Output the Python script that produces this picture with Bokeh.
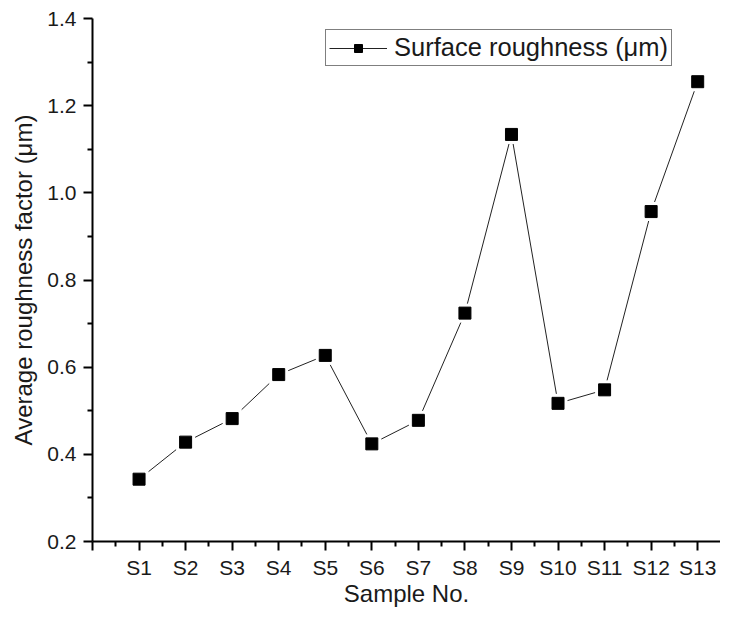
from bokeh.plotting import figure
from bokeh.models import Range1d, FixedTicker, Legend, LegendItem
from bokeh.embed import file_html
from bokeh.resources import INLINE

samples = ["S1", "S2", "S3", "S4", "S5", "S6", "S7", "S8", "S9", "S10", "S11", "S12", "S13"]
roughness = [0.343, 0.428, 0.482, 0.583, 0.627, 0.424, 0.478, 0.724, 1.134, 0.517, 0.548, 0.957, 1.255]
y_ticks = [0.2, 0.4, 0.6, 0.8, 1.0, 1.2, 1.4]
y_minor = [0.3, 0.5, 0.7, 0.9, 1.1, 1.3]
x_title = "Sample No."
y_title = "Average roughness factor (μm)"
series_name = "Surface roughness (μm)"

xs = list(range(1, len(samples) + 1))
FONT = "Liberation Sans"
TXT = "#1a1a1a"
X_END = 13.49

p = figure(width=720, height=609, output_backend="svg", toolbar_location=None,
           x_range=Range1d(0, X_END), y_range=Range1d(0.2, 1.4),
           min_border_left=92, min_border_right=0, min_border_top=18, min_border_bottom=60)
p.outline_line_color = None
p.xgrid.visible = False
p.ygrid.visible = False
p.background_fill_color = "white"
p.border_fill_color = "white"

ln = p.line(xs, roughness, line_color="#222222", line_width=1)
halo = p.scatter(xs, roughness, marker="square", size=19, fill_color="white", line_color=None)
sq = p.scatter(xs, roughness, marker="square", size=12, fill_color="black", line_color="black")

x_major = list(range(0, 14))
x_minor = [i + 0.5 for i in range(0, 14)]
p.xaxis.ticker = FixedTicker(ticks=x_major, minor_ticks=x_minor)
overrides = {0: ""}
for i, s in zip(xs, samples):
    overrides[i] = s
p.xaxis.major_label_overrides = overrides
p.yaxis.ticker = FixedTicker(ticks=y_ticks, minor_ticks=y_minor)
p.yaxis.major_label_overrides = {v: f"{v:.1f}" for v in y_ticks}

for ax in (p.xaxis[0], p.yaxis[0]):
    ax.axis_line_width = 2
    ax.axis_line_color = "black"
    ax.major_tick_line_width = 2
    ax.minor_tick_line_width = 2
    ax.major_tick_line_color = "black"
    ax.minor_tick_line_color = "black"
    ax.major_tick_out = 9
    ax.major_tick_in = 0
    ax.minor_tick_out = 5
    ax.minor_tick_in = 0
    ax.major_label_text_font = FONT
    ax.major_label_text_font_size = "21px"
    ax.major_label_text_color = TXT
    ax.axis_label_text_font = FONT
    ax.axis_label_text_font_size = "24px"
    ax.axis_label_text_font_style = "normal"
    ax.axis_label_text_color = TXT

p.xaxis.axis_label = x_title
p.xaxis.major_label_standoff = 5
p.xaxis.axis_label_standoff = -2
p.yaxis.axis_label = y_title
p.yaxis.major_label_standoff = 7
p.yaxis.axis_label_standoff = 7

legend = Legend(items=[LegendItem(label=series_name, renderers=[ln, halo, sq])],
                location=(233, 475))
legend.border_line_color = "black"
legend.border_line_width = 1
legend.background_fill_color = "white"
legend.label_text_font = FONT
legend.label_text_font_size = "25.5px"
legend.label_text_color = TXT
legend.glyph_width = 58
legend.glyph_height = 20
legend.label_standoff = 7
legend.padding = 3
legend.margin = 0
legend.spacing = 0
p.add_layout(legend)

open("out.html", "w").write(file_html(p, INLINE))
